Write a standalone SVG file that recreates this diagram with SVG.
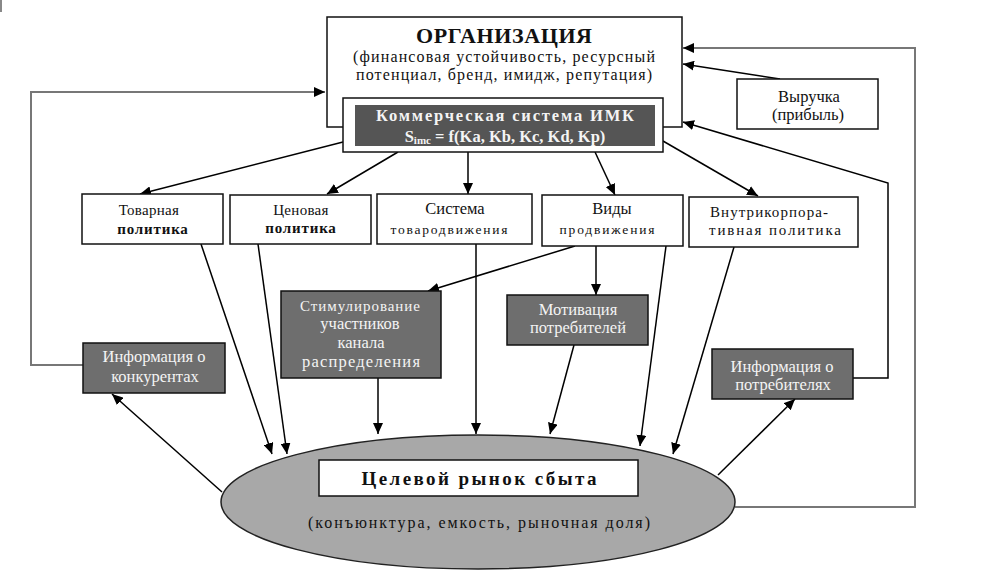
<svg xmlns="http://www.w3.org/2000/svg" width="988" height="577" viewBox="0 0 988 577" font-family="'Liberation Serif', 'DejaVu Serif', serif">
<defs>
<marker id="ah" markerUnits="userSpaceOnUse" markerWidth="12" markerHeight="10" refX="11" refY="5" orient="auto">
<path d="M0,0 L11,5 L0,10 Z" fill="#000"/>
</marker>
<style>
text{font-family:'Liberation Serif','DejaVu Serif',serif;text-anchor:middle;fill:#111}
.box{fill:#fff;stroke:#111;stroke-width:1.5}
.dark{fill:#6e6e6e;stroke:#111;stroke-width:1.5}
.wt{fill:#f4f4f4}
.ca{fill:none;stroke:#000;stroke-width:1.5;marker-end:url(#ah)}
.ga{fill:none;stroke:#777;stroke-width:2;marker-end:url(#ah)}
.t14{font-size:15px}
.t15{font-size:16.5px}
</style>
</defs>
<rect x="0" y="0" width="2" height="12" fill="#888"/>

<g id="connectors">
<polyline class="ga" points="83,365 31,365 31,92 325,92"/>
<polyline class="ga" points="735,507 915,507 915,48 683,48"/>
<line class="ca" x1="780" y1="79" x2="683" y2="64"/>
<polyline class="ca" points="853,378 888,378 888,183 683,122"/>
<line class="ca" x1="343" y1="142" x2="140" y2="194"/>
<line class="ca" x1="398" y1="152" x2="327" y2="194"/>
<line class="ca" x1="468" y1="152" x2="468" y2="194"/>
<line class="ca" x1="595" y1="152" x2="615" y2="195"/>
<line class="ca" x1="663" y1="141" x2="758" y2="196"/>
<line class="ca" x1="575" y1="246" x2="428" y2="291"/>
<line class="ca" x1="596" y1="246" x2="596" y2="295"/>
<line class="ca" x1="201" y1="244" x2="272" y2="454"/>
<line class="ca" x1="258" y1="244" x2="287" y2="454"/>
<line class="ca" x1="378" y1="378" x2="378" y2="434"/>
<line class="ca" x1="476" y1="244" x2="476" y2="434"/>
<line class="ca" x1="574" y1="345" x2="550" y2="434"/>
<line class="ca" x1="666" y1="246" x2="640" y2="446"/>
<line class="ca" x1="734" y1="247" x2="673" y2="454"/>
<line class="ca" x1="222" y1="492" x2="112" y2="394"/>
<line class="ca" x1="718" y1="475" x2="795" y2="399"/>
</g>

<g id="org">
<rect class="box" x="327" y="17" width="355" height="110"/>
<text x="504" y="43" style="font-size:22px;font-weight:bold" textLength="176">ОРГАНИЗАЦИЯ</text>
<text x="504" y="62" style="font-size:16px" textLength="302">(финансовая устойчивость, ресурсный</text>
<text x="504" y="80" style="font-size:16px" textLength="296">потенциал, бренд, имидж, репутация)</text>
</g>

<g id="commercial">
<rect class="box" x="343" y="98" width="320" height="54"/>
<rect x="355" y="105" width="300" height="41" fill="#555"/>
<text x="505" y="121" class="wt" style="font-size:16.5px;font-weight:bold" textLength="258">Коммерческая система ИМК</text>
<text x="505" y="142" class="wt" style="font-size:16.5px;font-weight:bold">S<tspan style="font-size:11px" dy="2">imc</tspan><tspan dy="-2"> = f(Ka, Kb, Kc, Kd, Kp)</tspan></text>
</g>

<g id="revenue">
<rect class="box" x="737" y="79" width="141" height="50"/>
<text x="809" y="102" class="t15">Выручка</text>
<text x="808" y="120" class="t15">(прибыль)</text>
</g>

<g id="tovar">
<rect class="box" x="82" y="194" width="141" height="50"/>
<text x="149" y="215" class="t14" style="letter-spacing:0.3px">Товарная</text>
<text x="153" y="234" class="t14" style="letter-spacing:0.8px;font-weight:bold">политика</text>
</g>

<g id="price">
<rect class="box" x="230" y="195" width="141" height="49"/>
<text x="301" y="215" class="t14" style="letter-spacing:0.3px">Ценовая</text>
<text x="301" y="233" class="t14" style="letter-spacing:0.8px;font-weight:bold">политика</text>
</g>

<g id="distribution">
<rect class="box" x="377" y="194" width="155" height="50"/>
<text x="455" y="214" class="t15">Система</text>
<text x="449" y="234" style="font-size:13.5px" textLength="117">товародвижения</text>
</g>

<g id="promo">
<rect class="box" x="542" y="195" width="141" height="51"/>
<text x="612" y="214" class="t15">Виды</text>
<text x="607" y="234" style="font-size:13.5px" textLength="95">продвижения</text>
</g>

<g id="internal">
<rect class="box" x="689" y="197" width="169" height="50"/>
<text x="769" y="217" class="t14" textLength="118">Внутрикорпора-</text>
<text x="775" y="235" class="t14" textLength="132">тивная политика</text>
</g>

<g id="stimul">
<rect class="dark" x="281" y="291" width="160" height="87"/>
<text x="360" y="311" class="t14 wt" textLength="120">Стимулирование</text>
<text x="360" y="329" class="t15 wt">участников</text>
<text x="361" y="348" class="t15 wt">канала</text>
<text x="361" y="367" class="t15 wt" textLength="118">распределения</text>
</g>

<g id="motiv">
<rect class="dark" x="507" y="295" width="141" height="50"/>
<text x="578" y="315" class="t15 wt">Мотивация</text>
<text x="578" y="333" class="t15 wt">потребителей</text>
</g>

<g id="info-comp">
<rect class="dark" x="83" y="343" width="142" height="50"/>
<text x="154" y="362" class="t15 wt">Информация о</text>
<text x="155" y="382" class="t15 wt">конкурентах</text>
</g>

<g id="info-cons">
<rect class="dark" x="712" y="349" width="141" height="50"/>
<text x="782" y="372" class="t15 wt">Информация о</text>
<text x="783" y="390" class="t15 wt">потребителях</text>
</g>

<g id="market">
<ellipse cx="478" cy="502" rx="257" ry="67" fill="#a8a8a8" stroke="#222" stroke-width="1.5"/>
<rect class="box" x="319" y="460" width="319" height="36"/>
<text x="479" y="485" style="font-size:19px;font-weight:bold" textLength="235">Целевой рынок сбыта</text>
<text x="479" y="528" style="font-size:16px" textLength="342">(конъюнктура, емкость, рыночная доля)</text>
</g>
</svg>
